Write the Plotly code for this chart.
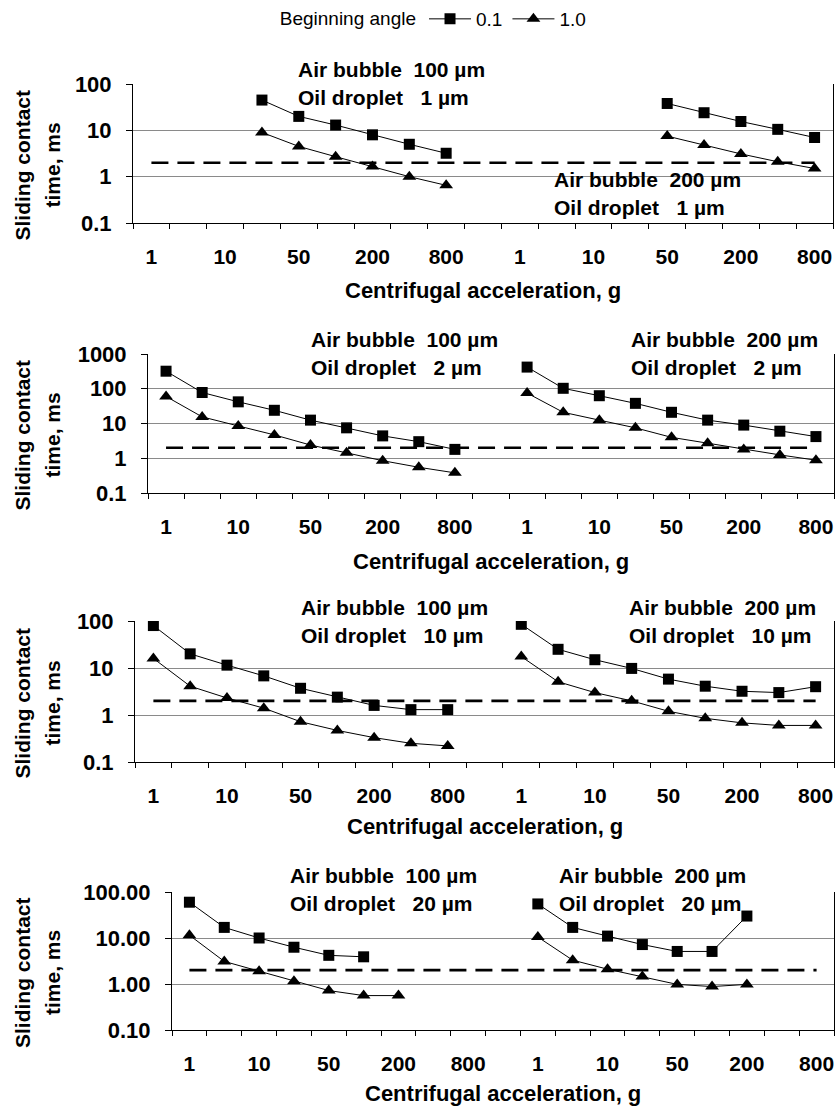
import plotly.graph_objects as go

W, H = 836, 1108
FONT = "Liberation Sans, Arial, sans-serif"

# ---- categories (19 slots: 9 per half + one empty slot between halves) ----
slot_labels = ["1", "", "10", "", "50", "", "200", "", "800", "",
               "1", "", "10", "", "50", "", "200", "", "800"]
shown_ticks = [i for i, t in enumerate(slot_labels) if t]
shown_text = [slot_labels[i] for i in shown_ticks]
threshold = 2.0
N = None

# ---- data: sliding contact time (ms); beginning angle 0.1 (squares) and 1.0 (triangles) ----
p1_sq = [N, N, N, 45, 20, 13, 8, 5, 3.2, N, N, N, N, N, 38, 24, 15.5, 10.5, 7.0]
p1_tr = [N, N, N, 9, 4.5, 2.7, 1.65, 1.0, 0.65, N, N, N, N, N, 7.5, 4.8, 3.1, 2.1, 1.5]
p2_sq = [320, 78, 42, 24, 12.5, 7.5, 4.4, 3.0, 1.8, N, 420, 103, 63, 38, 21, 12.5, 9, 6, 4.2]
p2_tr = [60, 15.5, 8.5, 4.7, 2.4, 1.45, 0.85, 0.55, 0.38, N, 75, 21, 12.5, 7.5, 4.0, 2.7, 1.8, 1.25, 0.88]
p3_sq = [80, 20, 11.5, 6.8, 3.7, 2.4, 1.6, 1.3, 1.3, N, 85, 25, 15, 9.8, 5.8, 4.1, 3.2, 3.0, 4.0]
p3_tr = [16, 4.1, 2.3, 1.4, 0.72, 0.47, 0.33, 0.25, 0.22, N, 17.5, 5.1, 3.0, 2.0, 1.2, 0.85, 0.68, 0.6, 0.6]
p4_sq = [60, 17, 10, 6.3, 4.2, 3.9, N, N, N, N, 55, 17, 11, 7.2, 5.1, 5.1, 30, N, N]
p4_tr = [11.5, 3.1, 1.9, 1.15, 0.72, 0.56, 0.56, N, N, N, 10.5, 3.3, 2.1, 1.45, 0.98, 0.88, 0.98, N, N]

bubble_left = "100"
bubble_right = "200"
droplets = ["1", "2", "10", "20"]
y_ticktexts = [["0.1", "1", "10", "100"],
               ["0.1", "1", "10", "100", "1000"],
               ["0.1", "1", "10", "100"],
               ["0.10", "1.00", "10.00", "100.00"]]
y_tickvals = [[0.1, 1, 10, 100], [0.1, 1, 10, 100, 1000], [0.1, 1, 10, 100], [0.1, 1, 10, 100]]

# ---- layout geometry (pixels) ----
panels = [
    dict(sq=p1_sq, tr=p1_tr, x0=133, x1=833, top=84, bot=223, yr=[-1, 2],
         ann=[(296, 69, 296, 97), (552, 180, 552, 207)], xt=291),
    dict(sq=p2_sq, tr=p2_tr, x0=148, x1=834, top=354, bot=493, yr=[-1, 3],
         ann=[(309, 339, 309, 367), (629, 339, 629, 367)], xt=561),
    dict(sq=p3_sq, tr=p3_tr, x0=135, x1=834, top=621, bot=762, yr=[-1, 2],
         ann=[(299, 607, 299, 635), (627, 607, 627, 635)], xt=826),
    dict(sq=p4_sq, tr=p4_tr, x0=172, x1=834, top=892, bot=1030, yr=[-1, 2],
         ann=[(288, 875, 288, 903), (557, 875, 557, 903)], xt=1093),
]

def px(x):
    return x / W

def py(y):
    return 1 - y / H

fig = go.Figure()
xs = list(range(len(slot_labels)))
annotations = []
nb = "\u00a0"
BOLD = lambda s: dict(family=FONT, size=s, color="black", weight="bold")

for k, p in enumerate(panels):
    n = k + 1
    xa = "x" if n == 1 else f"x{n}"
    ya = "y" if n == 1 else f"y{n}"
    # threshold dashed line
    fig.add_trace(go.Scatter(x=xs, y=[threshold] * len(xs), mode="lines", xaxis=xa, yaxis=ya,
                             line=dict(color="black", width=2.6, dash="17px,9px"),
                             showlegend=False, hoverinfo="skip"))
    fig.add_trace(go.Scatter(x=xs, y=p["sq"], mode="lines+markers", xaxis=xa, yaxis=ya,
                             name="0.1", legendgroup="a", showlegend=(n == 1),
                             line=dict(color="black", width=1),
                             marker=dict(symbol="square", size=11, color="black")))
    fig.add_trace(go.Scatter(x=xs, y=p["tr"], mode="lines+markers", xaxis=xa, yaxis=ya,
                             name="1.0", legendgroup="b", showlegend=(n == 1),
                             line=dict(color="black", width=1),
                             marker=dict(symbol="triangle-up", size=12, color="black")))

    fig.layout[f"xaxis{'' if n == 1 else n}"] = dict(
        domain=[px(p["x0"]), px(p["x1"])], anchor=ya, range=[-0.5, len(xs) - 0.5],
        automargin=False,
        showgrid=False, zeroline=False, showline=True, linecolor="black", linewidth=1,
        tickmode="array", tickvals=shown_ticks, ticktext=shown_text,
        ticks="outside", ticklen=15, tickcolor="rgba(0,0,0,0)",
        tickfont=BOLD(21),
        minor=dict(tickmode="array", tickvals=[i - 0.5 for i in range(len(xs) + 1)],
                   ticks="outside", ticklen=5, tickcolor="black", showgrid=False),
    )
    fig.layout[f"yaxis{'' if n == 1 else n}"] = dict(
        domain=[py(p["bot"]), py(p["top"])], anchor=xa, type="log", range=p["yr"],
        automargin=False,
        showgrid=True, gridcolor="#8a8a8a", gridwidth=1, zeroline=False,
        showline=True, linecolor="black", linewidth=1, mirror=True,
        tickmode="array", tickvals=y_tickvals[k], ticktext=y_ticktexts[k],
        ticks="outside", ticklen=6, tickcolor="black", ticklabelstandoff=10,
        tickfont=BOLD(22),
    )
    # panel labels
    d = droplets[k]
    for (ax, ay, bx, by), bub in zip(p["ann"], [bubble_left, bubble_right]):
        annotations.append(dict(x=px(ax), y=py(ay), xref="paper", yref="paper",
                                xanchor="left", yanchor="middle", showarrow=False,
                                text=f"Air bubble{nb}{nb}{bub} µm", font=BOLD(21)))
        annotations.append(dict(x=px(bx), y=py(by), xref="paper", yref="paper",
                                xanchor="left", yanchor="middle", showarrow=False,
                                text=f"Oil droplet{nb}{nb}{nb}{d} µm", font=BOLD(21)))
    # x title
    annotations.append(dict(x=px((p["x0"] + p["x1"]) / 2), y=py(p["xt"]), xref="paper", yref="paper",
                            xanchor="center", yanchor="middle", showarrow=False,
                            text="Centrifugal acceleration, g", font=BOLD(22)))
    # y title
    cy = (p["top"] + p["bot"]) / 2 + 12
    annotations.append(dict(x=px(22), y=py(cy), xref="paper", yref="paper", textangle=-90,
                            xanchor="center", yanchor="middle", showarrow=False,
                            text="Sliding contact", font=BOLD(21)))
    annotations.append(dict(x=px(52), y=py(cy), xref="paper", yref="paper", textangle=-90,
                            xanchor="center", yanchor="middle", showarrow=False,
                            text="time, ms", font=BOLD(21)))

fig.update_layout(
    width=W, height=H, margin=dict(l=0, r=0, t=0, b=0, autoexpand=False),
    paper_bgcolor="white", plot_bgcolor="white",
    annotations=annotations,
    legend=dict(orientation="h", x=0.52, xanchor="center", y=1.0, yanchor="top",
                title=dict(text="Beginning angle", side="left",
                           font=dict(family=FONT, size=19, color="black")),
                font=dict(family=FONT, size=19, color="black"),
                bgcolor="rgba(0,0,0,0)", itemwidth=42, tracegroupgap=0),
    showlegend=True,
)

fig.write_html("out.html")
